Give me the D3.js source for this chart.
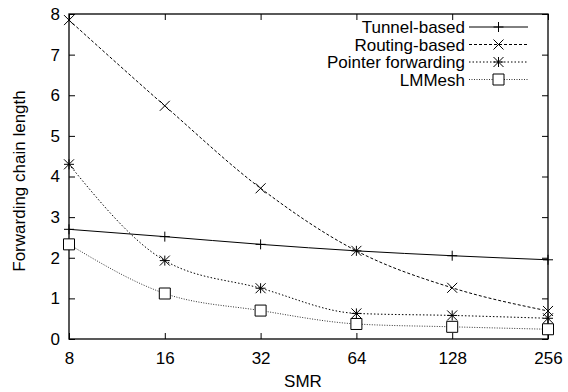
<!DOCTYPE html>
<html lang="en">
<head>
<meta charset="UTF-8">
<title>Forwarding chain length vs SMR</title>
<script src="https://d3js.org/d3.v7.min.js"></script>
<style>
  body { margin: 0; background: #fff; }
  text { font-family: "Liberation Sans", Arial, sans-serif; fill: #000; }
</style>
</head>
<body>
<div id="chart"></div>
<script>
// data
const smr = [8, 16, 32, 64, 128, 256];
const yTicks = [0, 1, 2, 3, 4, 5, 6, 7, 8];
const seriesNames = ["Tunnel-based", "Routing-based", "Pointer forwarding", "LMMesh"];
const tunnel  = [2.70, 2.52, 2.33, 2.17, 2.05, 1.95];
const routing = [7.85, 5.74, 3.71, 2.17, 1.26, 0.69];
const pointer = [4.30, 1.93, 1.25, 0.63, 0.58, 0.51];
const lmmesh  = [2.33, 1.12, 0.70, 0.37, 0.30, 0.24];

const width = 568, height = 392;
const margin = {left: 69, right: 20, top: 14, bottom: 53};
const fontSize = "17px";

const svg = d3.select("#chart").append("svg")
    .attr("width", width)
    .attr("height", height);

const x = d3.scaleLog().base(2).domain([8, 256]).range([margin.left, width - margin.right]);
const y = d3.scaleLinear().domain([0, 8]).range([height - margin.bottom, margin.top]);

const styles = [
    {dash: null, marker: "plus"},
    {dash: "3,2", marker: "cross"},
    {dash: "1.5,2", marker: "star"},
    {dash: "1,1.5", marker: "box"}
];
const allSeries = [tunnel, routing, pointer, lmmesh];

// axes (ticks point inward, mirrored like gnuplot)
const tickLen = 6;
svg.append("g")
    .attr("transform", "translate(0," + y(0) + ")")
    .call(d3.axisBottom(x).tickValues(smr).tickFormat(d3.format("d")).tickSizeInner(-tickLen).tickSizeOuter(0).tickPadding(13))
    .call(g => g.select(".domain").remove());
svg.append("g")
    .attr("transform", "translate(0," + y(8) + ")")
    .call(d3.axisTop(x).tickValues(smr).tickFormat("").tickSizeInner(-tickLen).tickSizeOuter(0))
    .call(g => g.select(".domain").remove());
svg.append("g")
    .attr("transform", "translate(" + x(8) + ",0)")
    .call(d3.axisLeft(y).tickValues(yTicks).tickSizeInner(-tickLen).tickSizeOuter(0).tickPadding(9))
    .call(g => g.select(".domain").remove());
svg.append("g")
    .attr("transform", "translate(" + x(256) + ",0)")
    .call(d3.axisRight(y).tickValues(yTicks).tickFormat("").tickSizeInner(-tickLen).tickSizeOuter(0))
    .call(g => g.select(".domain").remove());

svg.selectAll(".tick text").style("font-size", fontSize).style("font-family", "Liberation Sans, Arial, sans-serif");
svg.selectAll(".tick line").attr("stroke", "#000");

svg.append("rect")
    .attr("x", x(8)).attr("y", y(8))
    .attr("width", x(256) - x(8)).attr("height", y(0) - y(8))
    .attr("fill", "none").attr("stroke", "#000").attr("stroke-width", 1.3);

// axis labels
svg.append("text")
    .attr("x", 303).attr("y", 387)
    .attr("text-anchor", "middle").style("font-size", fontSize)
    .text("SMR");
svg.append("text")
    .attr("transform", "translate(25,181) rotate(-90)")
    .attr("text-anchor", "middle").style("font-size", fontSize)
    .text("Forwarding chain length");

function drawMarker(g, type, cx, cy) {
    const s = 5;
    const p = d3.path();
    if (type === "plus" || type === "star") {
        p.moveTo(cx - s, cy); p.lineTo(cx + s, cy);
        p.moveTo(cx, cy - s); p.lineTo(cx, cy + s);
    }
    if (type === "cross" || type === "star") {
        p.moveTo(cx - s, cy - s); p.lineTo(cx + s, cy + s);
        p.moveTo(cx - s, cy + s); p.lineTo(cx + s, cy - s);
    }
    if (type === "box") {
        p.rect(cx - s - 0.5, cy - s - 0.5, 2 * s + 1, 2 * s + 1);
    }
    g.append("path").attr("d", p.toString())
        .attr("fill", type === "box" ? "#fff" : "none")
        .attr("stroke", "#000").attr("stroke-width", 1);
}

const line = d3.line()
    .x((d, i) => x(smr[i]))
    .y(d => y(d))
    .curve(d3.curveMonotoneX);

allSeries.forEach((vals, k) => {
    svg.append("path")
        .datum(vals)
        .attr("d", line)
        .attr("fill", "none")
        .attr("stroke", k === 3 ? "#333" : "#000")
        .attr("stroke-width", 1)
        .attr("stroke-dasharray", styles[k].dash);
});
allSeries.forEach((vals, k) => {
    const g = svg.append("g");
    vals.forEach((v, i) => drawMarker(g, styles[k].marker, x(smr[i]), y(v)));
});

// legend
const legendY = [27, 44.5, 62, 79.5];
seriesNames.forEach((name, k) => {
    const ly = legendY[k];
    svg.append("text")
        .attr("x", 465).attr("y", ly + 6)
        .attr("text-anchor", "end").style("font-size", fontSize)
        .text(name);
    svg.append("line")
        .attr("x1", 469).attr("x2", 528).attr("y1", ly).attr("y2", ly)
        .attr("stroke", k === 3 ? "#333" : "#000").attr("stroke-width", 1)
        .attr("stroke-dasharray", styles[k].dash);
    const g = svg.append("g");
    drawMarker(g, styles[k].marker, 498.5, ly);
});
</script>
</body>
</html>
